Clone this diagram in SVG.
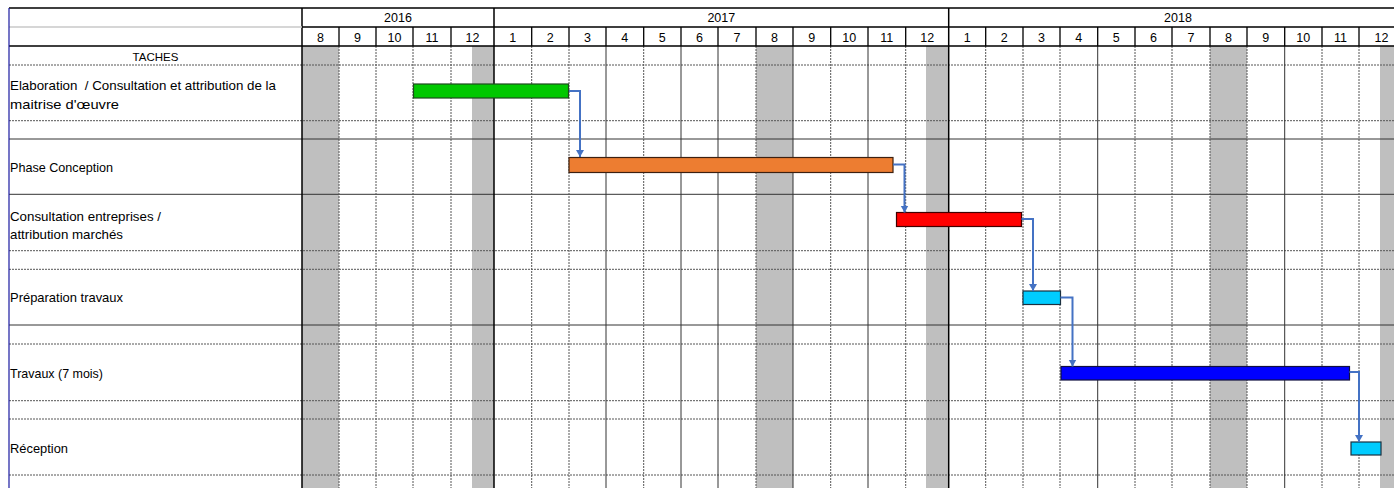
<svg xmlns="http://www.w3.org/2000/svg" width="1394" height="488" viewBox="0 0 1394 488">
<style>
text{font-family:"Liberation Sans",Arial,sans-serif;fill:#000;}
.hd{font-size:12.5px;text-anchor:middle;}
.lb{font-size:13px;}
.shade{fill:#bfbfbf;}
.hsolid{stroke:#000;stroke-width:1.3;fill:none;}
.vsolid{stroke:#333;stroke-width:1;fill:none;}
.vblack{stroke:#000;stroke-width:1.5;fill:none;}
.dot{stroke:#555;stroke-width:1;stroke-dasharray:2 1;fill:none;}
.bar{stroke-width:1.2;}
.conn{stroke:#4472c4;stroke-width:2;fill:none;marker-end:url(#arr);}
</style>
<defs>
<marker id="arr" markerUnits="userSpaceOnUse" markerWidth="9" markerHeight="9" refX="7" refY="4.5" orient="auto">
<path d="M0,0.5 L7,4.5 L0,8.5 z" fill="#4472c4"/>
</marker>
</defs>
<rect x="0" y="0" width="1394" height="488" fill="#fff"/>

<g id="shading">
<rect class="shade" x="302" y="46" width="37" height="442"/>
<rect class="shade" x="472" y="46" width="22" height="442"/>
<rect class="shade" x="756" y="46" width="37" height="442"/>
<rect class="shade" x="926" y="46" width="22.7" height="442"/>
<rect class="shade" x="1210" y="46" width="37" height="442"/>
<rect class="shade" x="1380" y="46" width="14" height="442"/>
</g>

<g id="grid">
<path class="dot" d="M9 65H1394M9 120.7H1394M9 250.7H1394M9 269.3H1394M9 344H1394M9 400.7H1394M9 419H1394M9 475H1394"/>
<path class="vsolid" d="M9 139H1394M9 194.3H1394M9 325H1394"/>
<path class="dot" d="M339 46V488M376 46V488M413 46V488M451 46V488M531.7 46V488M569 46V488M643.7 46V488M756 46V488M830.7 46V488M905.7 46V488M985.7 46V488M1023 46V488M1060 46V488M1135 46V488M1172 46V488M1210 46V488M1247 46V488M1322 46V488M1359 46V488"/>
<path class="vsolid" d="M606 46V488M681 46V488M718 46V488M793 46V488M868 46V488M1097.7 46V488M1284.7 46V488"/>
<path class="vblack" d="M302 8V488M494 8V488M948.7 8V488"/>
<path class="hsolid" d="M9 8H1394M302 27H1394M9 46H1394"/>
<path stroke="#c8c8c8" stroke-width="1.3" d="M9 27H302"/>
<path class="hsolid" d="M339 27V46M376 27V46M413 27V46M451 27V46M531.7 27V46M569 27V46M606 27V46M643.7 27V46M681 27V46M718 27V46M756 27V46M793 27V46M830.7 27V46M868 27V46M905.7 27V46M985.7 27V46M1023 27V46M1060 27V46M1097.7 27V46M1135 27V46M1172 27V46M1210 27V46M1247 27V46M1284.7 27V46M1322 27V46M1359 27V46"/>
<path stroke="#1a1aa0" stroke-width="1.2" d="M9 8V488"/>
</g>

<g id="header">
<text class="hd" x="398" y="22">2016</text>
<text class="hd" x="721.3" y="22">2017</text>
<text class="hd" x="1178" y="22">2018</text>
<text class="hd" x="320.5" y="41.5">8</text>
<text class="hd" x="357.5" y="41.5">9</text>
<text class="hd" x="394.5" y="41.5">10</text>
<text class="hd" x="432" y="41.5">11</text>
<text class="hd" x="472.5" y="41.5">12</text>
<text class="hd" x="512.8" y="41.5">1</text>
<text class="hd" x="550.3" y="41.5">2</text>
<text class="hd" x="587.5" y="41.5">3</text>
<text class="hd" x="624.8" y="41.5">4</text>
<text class="hd" x="662.3" y="41.5">5</text>
<text class="hd" x="699.5" y="41.5">6</text>
<text class="hd" x="737" y="41.5">7</text>
<text class="hd" x="774.5" y="41.5">8</text>
<text class="hd" x="811.8" y="41.5">9</text>
<text class="hd" x="849.3" y="41.5">10</text>
<text class="hd" x="886.8" y="41.5">11</text>
<text class="hd" x="927.2" y="41.5">12</text>
<text class="hd" x="967.2" y="41.5">1</text>
<text class="hd" x="1004.3" y="41.5">2</text>
<text class="hd" x="1041.5" y="41.5">3</text>
<text class="hd" x="1078.8" y="41.5">4</text>
<text class="hd" x="1116.3" y="41.5">5</text>
<text class="hd" x="1153.5" y="41.5">6</text>
<text class="hd" x="1191" y="41.5">7</text>
<text class="hd" x="1228.5" y="41.5">8</text>
<text class="hd" x="1265.8" y="41.5">9</text>
<text class="hd" x="1303.3" y="41.5">10</text>
<text class="hd" x="1340.5" y="41.5">11</text>
<text class="hd" x="1381.5" y="41.5">12</text>
<text class="hd" x="155.5" y="60.5" style="font-size:11.5px">TACHES</text>
</g>

<g id="task-elaboration">
<text class="lb" x="10" y="90" xml:space="preserve" textLength="266" lengthAdjust="spacingAndGlyphs">Elaboration  / Consultation et attribution de la</text>
<text class="lb" x="10" y="108.5" textLength="109" lengthAdjust="spacingAndGlyphs">maitrise d'œuvre</text>
<rect class="bar" x="413.5" y="84" width="155" height="14" fill="#00c800" stroke="#1e4a1e"/>
</g>

<g id="task-conception">
<text class="lb" x="10" y="172" textLength="103" lengthAdjust="spacingAndGlyphs">Phase Conception</text>
<rect class="bar" x="569" y="157.5" width="324" height="15" fill="#ed7d31" stroke="#3d2010"/>
</g>

<g id="task-consultation">
<text class="lb" x="10" y="221" textLength="151" lengthAdjust="spacingAndGlyphs">Consultation entreprises /</text>
<text class="lb" x="10" y="239" textLength="113" lengthAdjust="spacingAndGlyphs">attribution marchés</text>
<rect class="bar" x="896.5" y="212.5" width="125" height="14" fill="#ff0000" stroke="#400000"/>
</g>

<g id="task-preparation">
<text class="lb" x="10" y="302" textLength="113" lengthAdjust="spacingAndGlyphs">Préparation travaux</text>
<rect class="bar" x="1023" y="291" width="37.5" height="13.5" fill="#00ccff" stroke="#1a3040"/>
</g>

<g id="task-travaux">
<text class="lb" x="10" y="377.5" textLength="93" lengthAdjust="spacingAndGlyphs">Travaux (7 mois)</text>
<rect class="bar" x="1061" y="366.5" width="288.5" height="13.5" fill="#0000ff" stroke="#101040"/>
</g>

<g id="task-reception">
<text class="lb" x="10" y="452.5" textLength="58" lengthAdjust="spacingAndGlyphs">Réception</text>
<rect class="bar" x="1351" y="442" width="30" height="13" fill="#00ccff" stroke="#1a3040"/>
</g>

<g id="connectors">
<path class="conn" d="M569 91H580V157"/>
<path class="conn" d="M893 164.5H904.5V212.5"/>
<path class="conn" d="M1021.5 219H1033V291"/>
<path class="conn" d="M1060.5 297.5H1072.5V366.5"/>
<path class="conn" d="M1349.5 372H1359V442"/>
</g>
</svg>
